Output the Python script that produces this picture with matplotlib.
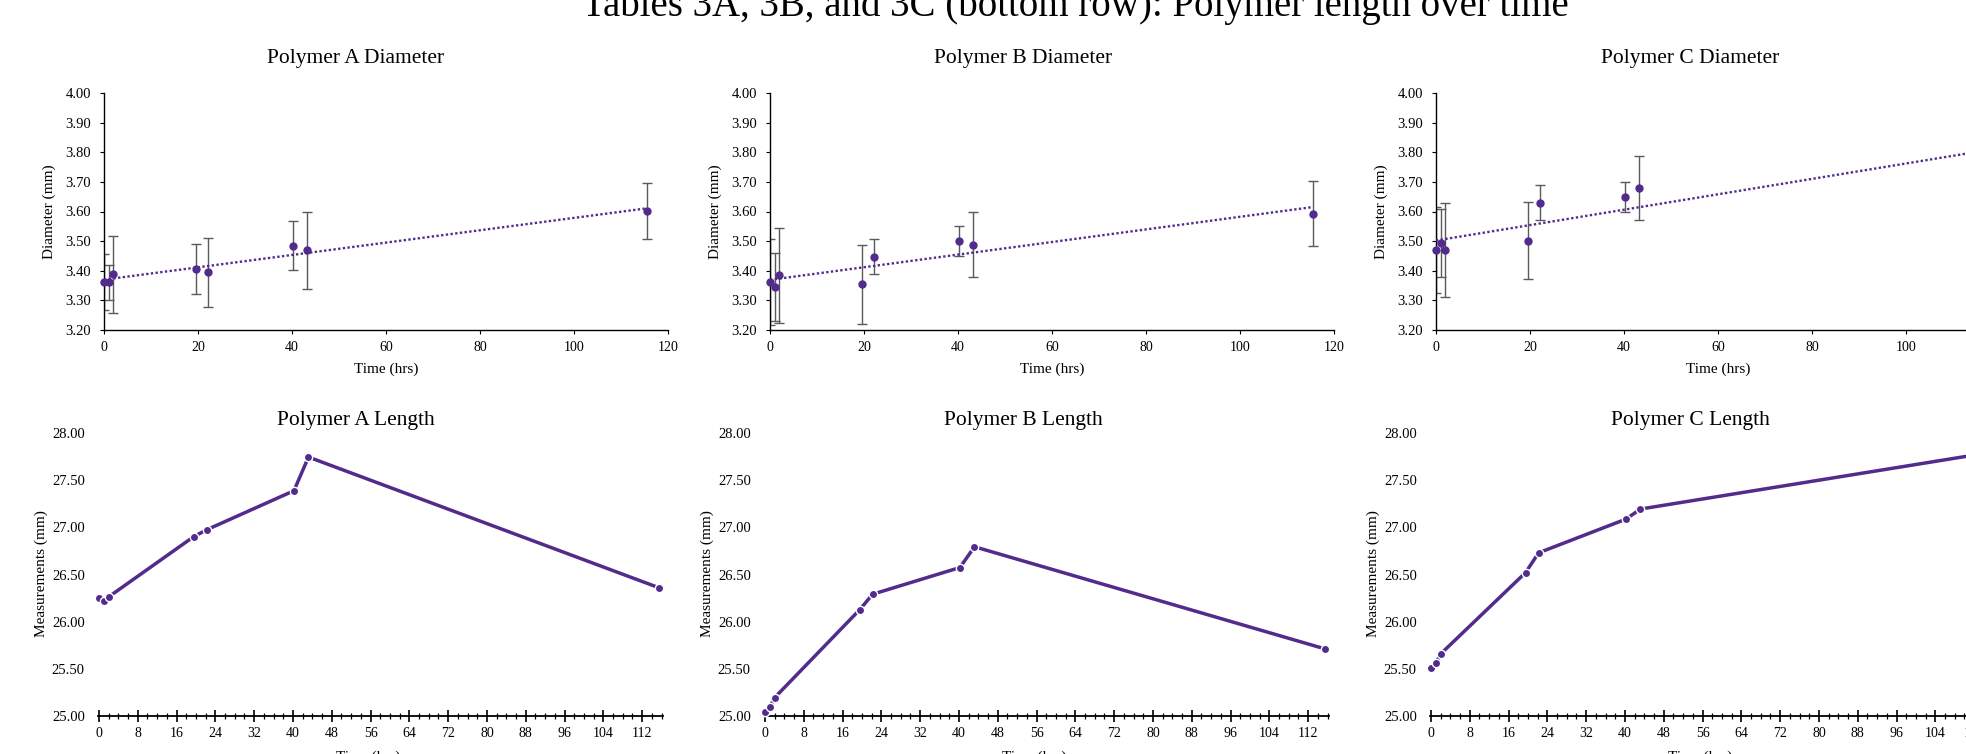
import matplotlib
matplotlib.use("Agg")
import matplotlib.pyplot as plt
import numpy as np
from matplotlib.ticker import MultipleLocator, FormatStrFormatter

plt.rcParams["font.family"] = ["Liberation Serif", "DejaVu Serif"]

# ---- data ----
times = [0, 1, 2, 19.5, 22.2, 40.2, 43.2, 115.5]

diam_a = [3.361, 3.361, 3.388, 3.407, 3.395, 3.485, 3.469, 3.601]
diam_a_err = [0.095, 0.06, 0.13, 0.084, 0.117, 0.083, 0.131, 0.094]
diam_b = [3.361, 3.345, 3.384, 3.354, 3.448, 3.500, 3.488, 3.593]
diam_b_err = [0.145, 0.115, 0.16, 0.133, 0.058, 0.05, 0.109, 0.109]
diam_c = [3.470, 3.493, 3.470, 3.501, 3.629, 3.649, 3.678, 3.760]
diam_c_err = [0.145, 0.115, 0.16, 0.13, 0.059, 0.05, 0.108, 0.10]

len_a = [26.256, 26.221, 26.263, 26.900, 26.974, 27.388, 27.745, 26.359]
len_b = [25.039, 25.096, 25.195, 26.125, 26.291, 26.574, 26.794, 25.711]
len_c = [25.510, 25.561, 25.658, 26.520, 26.730, 27.087, 27.194, 27.795]

polymers = ["A", "B", "C"]
diam_series = [(diam_a, diam_a_err), (diam_b, diam_b_err), (diam_c, diam_c_err)]
len_series = [len_a, len_b, len_c]

PURPLE = "#522B8C"
GREY = "#5a5a5a"
W, H = 1966, 754
STEP = 666


def box(left, right, top, bottom):
    return [left / W, 1 - bottom / H, (right - left) / W, (bottom - top) / H]


fig = plt.figure(figsize=(W / 100, H / 100), dpi=100)


def ftext(x, y, s, **kw):
    fig.text(x / W, 1 - y / H, s, **kw)


# 上端で切れているタイトル(参照画像と同じく下半分だけ見える)
ftext(1075, 16, "Tables 3A, 3B, and 3C (bottom row): Polymer length over time",
      fontsize=28, ha="center", va="baseline")

# ---- top row: diameter with error bars + linear trend ----
for i, (name, (vals, errs)) in enumerate(zip(polymers, diam_series)):
    left = 104 + STEP * i
    ax = fig.add_axes(box(left, left + 564, 93, 330))
    ax.errorbar(times, vals, yerr=errs, fmt="none", ecolor=GREY,
                elinewidth=1.0, capsize=3.5, capthick=1.0, zorder=2)
    slope, icpt = np.polyfit(times, vals, 1)
    tx = np.array([0, max(times)])
    ax.plot(tx, icpt + slope * tx, color=PURPLE, lw=1.7,
            linestyle=(0, (1.0, 1.0)), zorder=3)
    ax.plot(times, vals, "o", color=PURPLE, ms=5, zorder=4, clip_on=False)
    ax.set_xlim(0, 120)
    ax.set_ylim(3.2, 4.0)
    ax.xaxis.set_major_locator(MultipleLocator(20))
    ax.yaxis.set_major_locator(MultipleLocator(0.1))
    ax.yaxis.set_major_formatter(FormatStrFormatter("%.2f"))
    for s in ("top", "right"):
        ax.spines[s].set_visible(False)
    for s in ("left", "bottom"):
        ax.spines[s].set_linewidth(1.0)
    ax.tick_params(direction="out", length=3, width=0.8, labelsize=10.5)
    ax.tick_params(axis="y", pad=6.5)
    ax.tick_params(axis="x", pad=5, labelsize=10)

    ftext(356 + 667 * i, 59, f"Polymer {name} Diameter", fontsize=15.5,
          ha="center", va="center")
    ftext(left + 282, 369, "Time (hrs)", fontsize=11, ha="center", va="center")
    ftext(left - 55, 212, "Diameter (mm)", fontsize=11, ha="center",
          va="center", rotation=90)

# ---- bottom row: length over time ----
for i, (name, vals) in enumerate(zip(polymers, len_series)):
    left = 98 + STEP * i
    ax = fig.add_axes(box(left, left + 565, 433, 716))
    ax.plot(times, vals, "-o", color=PURPLE, lw=2.5, ms=6,
            mec="white", mew=1.0, clip_on=False, zorder=3)
    ax.set_xlim(-0.2, 116.3)
    ax.set_ylim(25.0, 28.0)
    ax.xaxis.set_major_locator(MultipleLocator(8))
    ax.xaxis.set_minor_locator(MultipleLocator(2))
    ax.yaxis.set_major_locator(MultipleLocator(0.5))
    ax.yaxis.set_major_formatter(FormatStrFormatter("%.2f"))
    for s in ("top", "right", "left"):
        ax.spines[s].set_visible(False)
    ax.spines["bottom"].set_linewidth(1.3)
    ax.tick_params(axis="y", length=0, pad=9.5, labelsize=10.5)
    ax.tick_params(axis="x", which="major", direction="inout", length=8,
                   width=1.2, pad=4, labelsize=10)
    ax.tick_params(axis="x", which="minor", direction="inout", length=5,
                   width=0.9)

    ftext(356 + 667 * i, 420, f"Polymer {name} Length", fontsize=15.5,
          ha="center", va="center")
    ftext(left + 270, 757, "Time (hrs)", fontsize=11, ha="center", va="center")
    ftext(left - 57, 574, "Measurements (mm)", fontsize=11, ha="center",
          va="center", rotation=90)

fig.savefig("out.png", dpi=100)
